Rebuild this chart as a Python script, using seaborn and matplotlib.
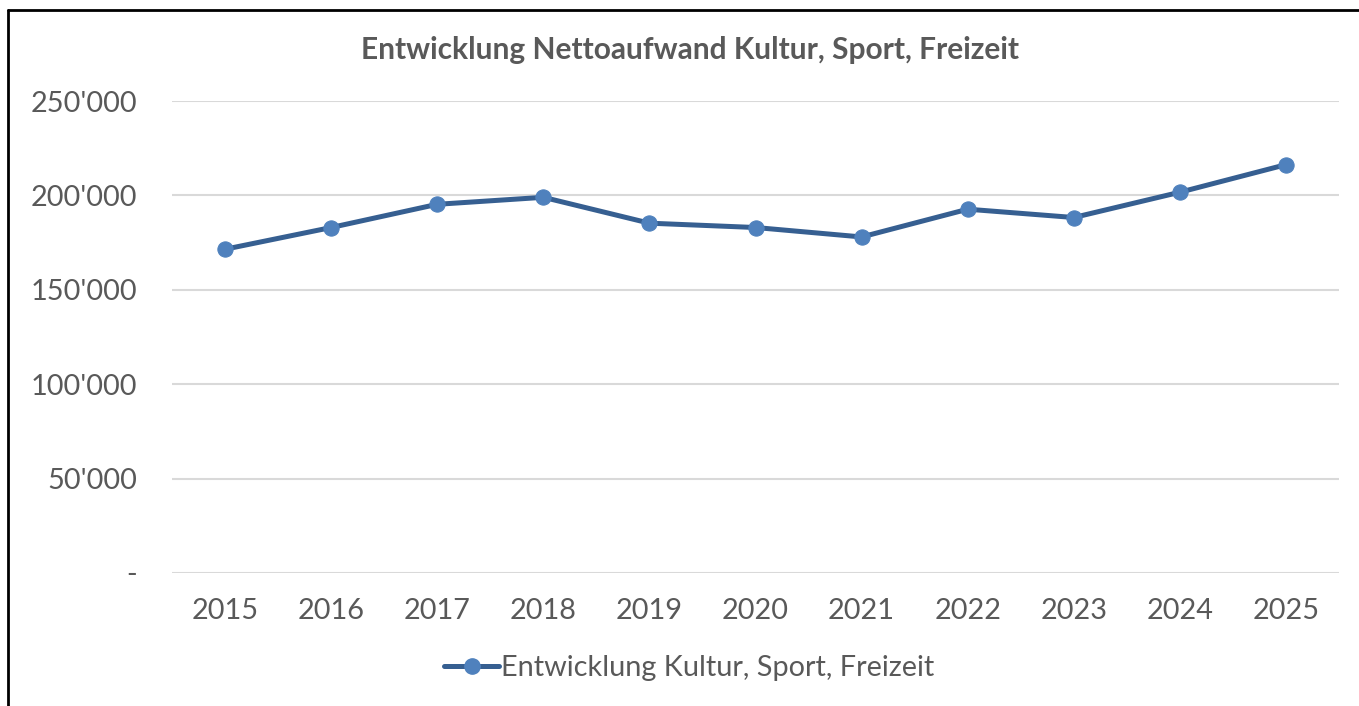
import pandas as pd
import matplotlib.pyplot as plt
import matplotlib.ticker as mticker
from matplotlib.lines import Line2D
import seaborn as sns

# Daten
jahre = ["2015", "2016", "2017", "2018", "2019", "2020", "2021", "2022", "2023", "2024", "2025"]
nettoaufwand = [171500, 183000, 195300, 199000, 185300, 183000, 178000, 192700, 188300, 201700, 216300]

titel = "Entwicklung Nettoaufwand Kultur, Sport, Freizeit"
serie = "Entwicklung Kultur, Sport, Freizeit"

df = pd.DataFrame({"Jahr": jahre, "Wert": nettoaufwand})

sns.set_theme(style="white")
plt.rcParams['font.family'] = ['Lato', 'DejaVu Sans']

grau = "#595959"
linie = "#365f91"
punkt = "#4f81bd"

fig = plt.figure(figsize=(13.59, 7.06), dpi=100)
ax = fig.add_axes([0.1266, 0.1884, 0.8587, 0.6685])

sns.lineplot(data=df, x="Jahr", y="Wert", ax=ax, sort=False, color=linie,
             linewidth=3.6, marker="o", markersize=11,
             markerfacecolor=punkt, markeredgecolor=punkt, legend=False)

ax.set_xlim(-0.5, len(jahre) - 0.5)
ax.set_ylim(0, 250000)
ax.set_yticks(range(0, 250001, 50000))
ax.yaxis.set_major_formatter(mticker.FuncFormatter(
    lambda v, p: "-" if v == 0 else f"{int(v):,}".replace(",", "'")))
ax.grid(axis="y", color="#d9d9d9", linewidth=1.5)
ax.set_axisbelow(True)
for s in ax.spines.values():
    s.set_visible(False)
ax.tick_params(axis="both", length=0, labelsize=20.8, labelcolor=grau)
ax.tick_params(axis="x", pad=18)
ax.tick_params(axis="y", pad=25)
ax.set_xlabel("")
ax.set_ylabel("")

fig.text(0.508, 0.929, titel, ha="center", va="center", fontsize=21.5,
         fontweight="bold", color=grau)

handle = Line2D([], [], color=linie, linewidth=3.6, marker="o", markersize=11,
                markerfacecolor=punkt, markeredgecolor=punkt, solid_capstyle="round")
fig.legend([handle], [serie], loc="center", bbox_to_anchor=(0.507, 0.054),
           frameon=False, fontsize=20.8, labelcolor=grau, handlelength=1.9,
           handletextpad=0.05)

# Rahmen oben und links
fig.add_artist(Line2D([0.0059, 1.0], [0.986, 0.986], transform=fig.transFigure,
                      color="black", linewidth=2))
fig.add_artist(Line2D([0.0059, 0.0059], [0.0, 0.986], transform=fig.transFigure,
                      color="black", linewidth=2))

fig.savefig("out.png", dpi=100, facecolor="white")
